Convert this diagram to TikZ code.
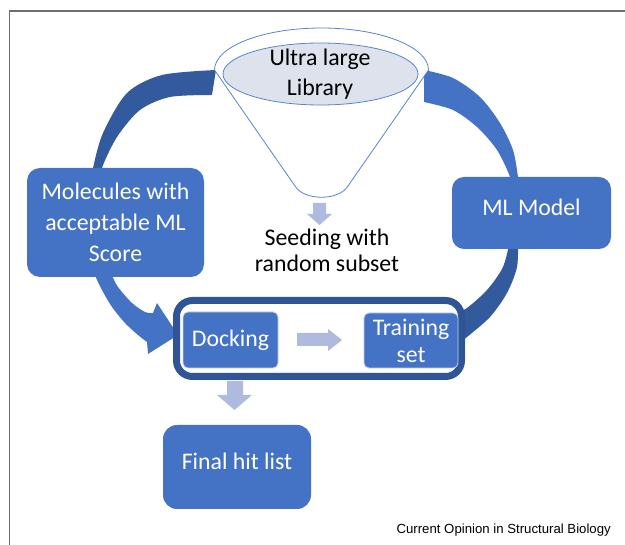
\documentclass[tikz,border=0pt]{standalone}
\usepackage{fontspec}
\setmainfont{Carlito}
\newfontfamily\capfont{Liberation Sans}
\definecolor{boxblue}{HTML}{4472C4}
\definecolor{darkblue}{HTML}{2F5597}
\definecolor{arcdark}{HTML}{345A9E}
\definecolor{lightarrow}{HTML}{AEBBDF}
\definecolor{ellfill}{HTML}{DEE2EC}
\definecolor{funline}{HTML}{5B82CC}
\definecolor{framegray}{HTML}{6E6E6E}
\begin{document}
\begin{tikzpicture}[x=1pt,y=-1pt,
  bluebox/.style={fill=boxblue, text=white, align=center, inner sep=0pt,
    font=\fontsize{23.8}{31}\selectfont},
  smallbox/.style={bluebox, rounded corners=5pt, draw=white!65!boxblue, line width=0.8pt},
  lightarr/.style={fill=lightarrow},
  plain/.style={text=black, align=center, inner sep=0pt, font=\fontsize{23.8}{30}\selectfont}]
\useasboundingbox (0,0) rectangle (625,545);
% frame
\draw[framegray, line width=1.3pt] (9.3,545) -- (9.3,11) -- (625,11);
% cycle arcs
\fill[arcdark] plot[smooth] coordinates {(216,70) (162,75) (127,93) (103,133) (93,168) (92,180)}
  -- plot[smooth] coordinates {(103,180) (102,168) (117,137) (140,110) (170,97) (212,95)} -- cycle;
\fill[boxblue] plot[smooth] coordinates {(424,70) (453,78) (480,97) (500,123) (513,150) (518,177) (519,188)}
  -- plot[smooth] coordinates {(510,188) (510,177) (497,150) (477,127) (453,110) (424,102)} -- cycle;
\fill[arcdark] plot[smooth] coordinates {(518,240) (517,267) (507,293) (490,317) (467,337) (455,346)}
  -- plot[smooth] coordinates {(455,314) (467,308) (487,290) (503,267) (510,240)} -- cycle;
\fill[boxblue] plot[smooth] coordinates {(94,266) (95,275) (102,290) (112,307) (125,323) (138,335) (147,342)}
  -- (148,354) -- (178,335) -- (157,303)
  -- plot[smooth] coordinates {(153,313) (145,312) (132,303) (118,287) (112,275) (111,266)} -- cycle;
% funnel
\path[draw=funline, fill=white, line width=0.8pt]
  (214.5,70) arc[start angle=180, end angle=360, x radius=107, y radius=42]
  -- (348,186) .. controls (339,201) and (304,201) .. (295,186) -- cycle;
\draw[fill=ellfill, draw=funline, line width=0.8pt] (320.5,74) ellipse[x radius=97.5, y radius=31];
\node (lib) [plain] at (320,74) {Ultra large\\Library};
% seeding arrow
\fill[lightarr] (313,203) -- (326,203) -- (326,214) -- (332,214) -- (319.5,225) -- (307,214) -- (313,214) -- cycle;
\node (seed) [plain, font=\fontsize{23.8}{26}\selectfont] at (327,250) {Seeding with\\random subset};
% side boxes
\node (mol) [bluebox, rounded corners=13pt, minimum width=177, minimum height=109] at (115.5,222.5)
  {Molecules with\\acceptable ML\\Score};
\node (ml) [bluebox, rounded corners=12pt, minimum width=159, minimum height=72, text height=12pt, text depth=7pt]
  at (531.5,213) {ML Model};
% loop container
\node (loop) [draw=darkblue, line width=7pt, fill=white, rounded corners=16pt,
  minimum width=285, minimum height=76, inner sep=0pt] at (319,338.5) {};
\node (dock) [smallbox, minimum width=95, minimum height=56] at (230.5,340) {Docking};
\node (train) [smallbox, minimum width=94, minimum height=55, font=\fontsize{23.8}{27}\selectfont]
  at (411,340.5) {Training\\set};
\fill[lightarr] (297,333) -- (328,333) -- (328,329) -- (342,340) -- (328,351) -- (328,346) -- (297,346) -- cycle;
% down arrow and final box
\fill[lightarr] (227,381) -- (243,381) -- (243,395) -- (252,395) -- (234.5,410) -- (217,395) -- (227,395) -- cycle;
\node (final) [bluebox, rounded corners=14pt, minimum width=148, minimum height=84, text height=12pt, text depth=7pt]
  at (237,467) {Final hit list};
% caption
\node (cap) [anchor=base east, inner sep=0pt, font=\fontsize{13.2}{15}\selectfont\capfont] at (611,534)
  {Current Opinion in Structural Biology};
\end{tikzpicture}
\end{document}
